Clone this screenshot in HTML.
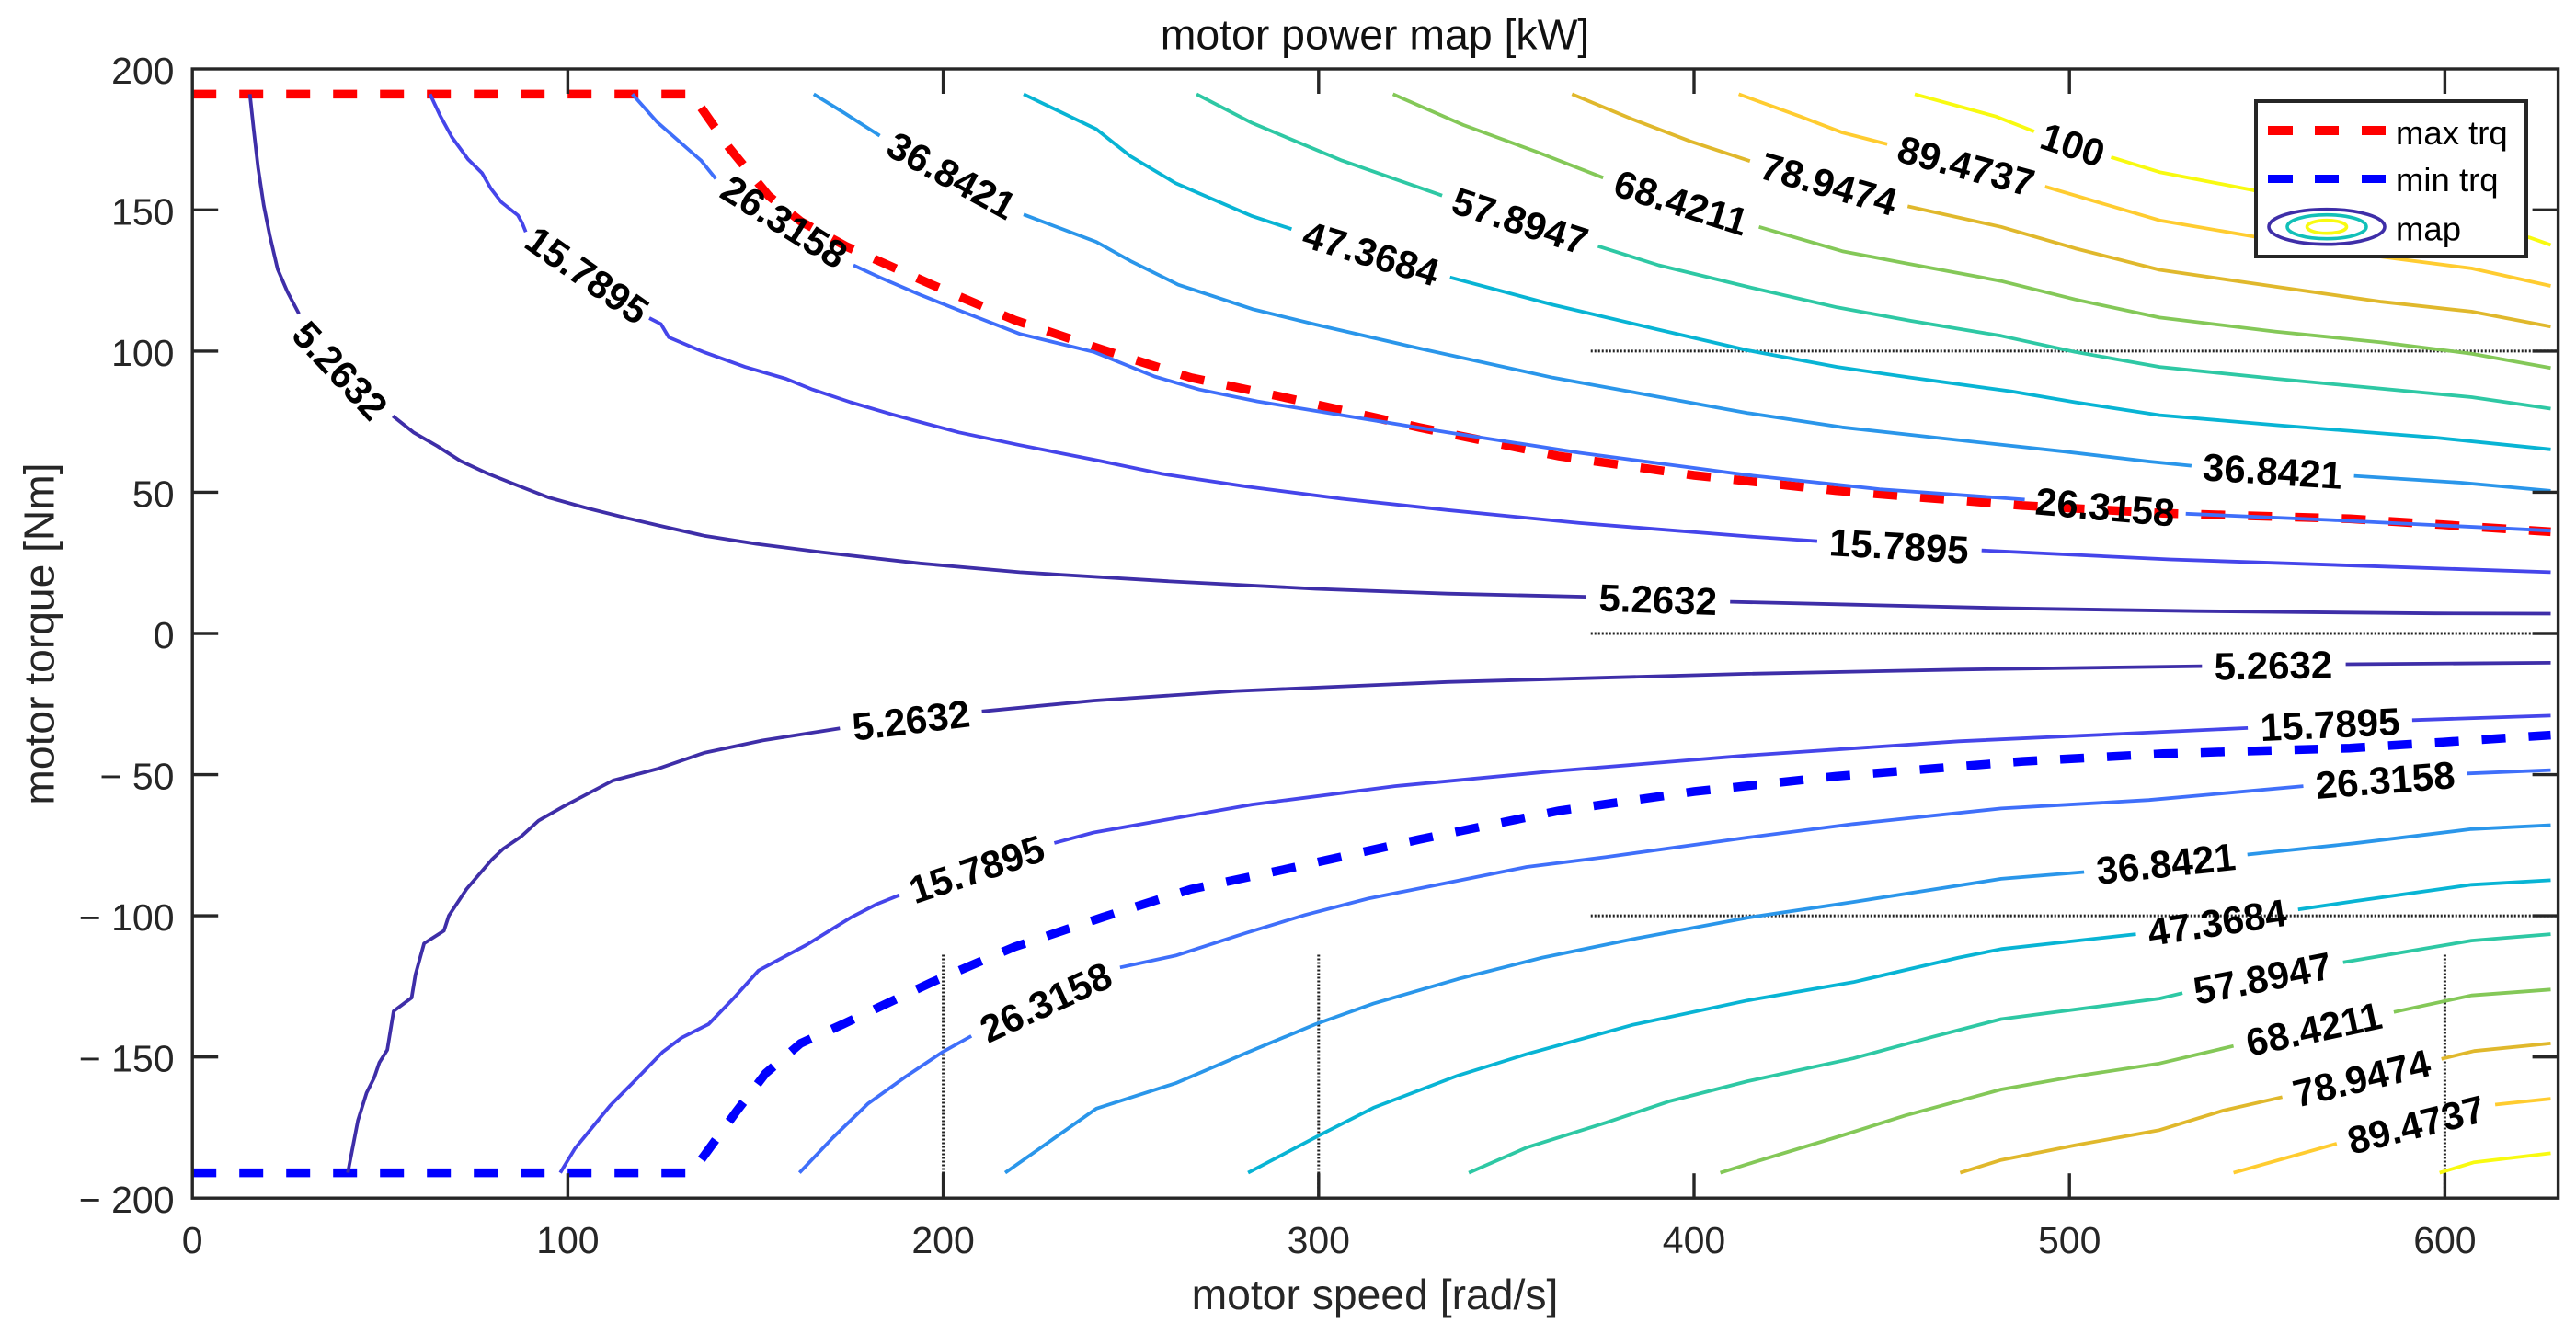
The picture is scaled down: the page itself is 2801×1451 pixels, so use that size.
<!DOCTYPE html>
<html lang="en">
<head>
<meta charset="utf-8">
<title>motor power map [kW]</title>
<style>
html,body{margin:0;padding:0;background:#fff;}
svg{display:block;font-family:"Liberation Sans",Arial,sans-serif;}
</style>
</head>
<body>
<svg id="chart" xmlns="http://www.w3.org/2000/svg" width="2801" height="1451" viewBox="0 0 2801 1451">
  <rect x="0" y="0" width="2801" height="1451" fill="#fff"/>
  <g id="guides"></g>
  <g id="limits"></g>
  <g id="contours"></g>
  <g id="contourLabels"></g>
  <g id="axes"></g>
  <text x="1495" y="53.5" text-anchor="middle" font-size="46.4" fill="#111">motor power map [kW]</text>
  <text x="1495" y="1424" text-anchor="middle" font-size="46.3" fill="#262626">motor speed [rad/s]</text>
  <text transform="translate(58.5 689.5) rotate(-90)" text-anchor="middle" font-size="46.2" fill="#262626">motor torque [Nm]</text>
  <g>
    <rect x="2453" y="110" width="294" height="169" fill="#fff" stroke="#262626" stroke-width="4"/>
    <g>
      <rect x="2466" y="137" width="27" height="10" fill="#ff0000"/>
      <rect x="2517" y="137" width="26" height="10" fill="#ff0000"/>
      <rect x="2568" y="137" width="26" height="10" fill="#ff0000"/>
      <text x="2605" y="157" font-size="36.5" fill="#000">max trq</text>
    </g>
    <g>
      <rect x="2466" y="190" width="27" height="9" fill="#0000ff"/>
      <rect x="2517" y="190" width="26" height="9" fill="#0000ff"/>
      <rect x="2568" y="190" width="26" height="9" fill="#0000ff"/>
      <text x="2605" y="208" font-size="36.5" fill="#000">min trq</text>
    </g>
    <g>
      <ellipse cx="2530" cy="246.7" rx="63" ry="19" fill="none" stroke="#3e2ea8" stroke-width="3.6"/>
      <ellipse cx="2530" cy="246.7" rx="43" ry="13" fill="none" stroke="#12c0b8" stroke-width="3.6"/>
      <ellipse cx="2530" cy="246.7" rx="21.5" ry="7" fill="none" stroke="#f8fa10" stroke-width="3.6"/>
      <text x="2605" y="261.5" font-size="36.5" fill="#000">map</text>
    </g>
  </g>
</svg>
<script>
// ---- axis ticks ----
const speedTicks = [0, 100, 200, 300, 400, 500, 600];
const torqueTicks = [200, 150, 100, 50, 0, -50, -100, -150, -200];
const speedTickLabels = ["0", "100", "200", "300", "400", "500", "600"];
const torqueTickLabels = ["200", "150", "100", "50", "0", "\u2212 50", "\u2212 100", "\u2212 150", "\u2212 200"];

// ---- guide lines ----
const guideTorques = [100, 0, -100];
const guideSpeeds = [200, 300, 600];
const guideSpeedStart = 372.5;
const guideTorqueTop = -113.8;

// ---- contour levels ----
const levelLabels = ["5.2632", "15.7895", "26.3158", "36.8421", "47.3684", "57.8947", "68.4211", "78.9474", "89.4737", "100"];

// ---- torque limits [speed, torque] ----
const maxTorqueCurve = [[0,191],[133,191],[143,172],[153.5,155],[162,146],[174,137.2],[197,123.5],[219,111],[242.5,100.5],[266,90.6],[290.6,83.7],[327,72.9],[364,62.8],[400,56],[437.8,50.6],[487.5,45.3],[524.9,42.6],[574.7,40.6],[599.5,38.5],[628.2,36]];
const minTorqueCurve = [[0,-191],[133,-191],[144.8,-169.5],[152.7,-155.8],[162,-145.2],[173.3,-138.4],[197,-123.5],[219,-111],[242.5,-100.5],[266,-90.6],[290.6,-83.7],[327,-72.9],[364,-62.8],[400,-56],[437.8,-50.6],[487.5,-45.3],[524.9,-42.6],[574.7,-40.6],[599.5,-38.5],[628.2,-36]];

// ---- contour branches [speed, torque] ----
const p5UpperA = [[15.3,191],[16.3,178.9],[17.5,165],[19,151.6],[20.6,141],[22.7,129],[25.3,121],[28.4,113.2]];
const p5UpperB = [[53.4,77],[58.9,71.2],[65.2,66.4],[71.4,61.1],[78.4,56.8],[86.3,52.6],[94.8,48.2],[105,44.4],[115.9,40.8],[125.3,37.9],[136.3,34.6],[150.3,31.7],[167.5,28.8],[193.8,24.8],[220.4,21.7],[259.8,18.5],[299.2,15.8],[334.3,14.1],[371.2,13]];
const p5UpperC = [[409.6,11.2],[442.4,10.2],[484.6,8.9],[533.9,7.9],[597.2,7.1],[628.2,7]];
const p16UpperA = [[63.3,191],[66,183.4],[69.1,175.8],[73.4,168],[77.2,163],[79.5,157.6],[82.3,152.8],[86.7,148.1],[87.8,145.5],[88.8,142.2]];
const p16UpperB = [[121.7,111.7],[124.8,109.6],[126.9,104.9],[136.3,99.6],[147.2,94.4],[158.1,90.2],[165.2,86.4],[175.3,81.9],[186.3,77.6],[193.8,74.9],[204.2,71.2],[220.4,66.7],[241.5,61.2],[258.4,56.5],[280.9,52],[306.2,47.7],[334.3,43.7],[369.5,39.1],[414.2,34.4],[432.8,32.7]];
const p16UpperC = [[476.6,29.4],[526.8,26.2],[583.1,23.7],[628.2,21.7]];
const p26UpperA = [[117.2,191],[123.8,181.1],[130,173.9],[135.5,167.5],[139.4,161.1]];
const p26UpperB = [[176.1,130.4],[183.1,126.1],[193.8,120],[204.9,114.1],[220.4,106.1],[240.1,99.7],[256.3,91],[268.2,86.4],[283.7,82.2],[306.2,77.3],[334.3,71.2],[369.5,64],[414.2,56.1],[449.4,51.1],[488.1,47.4]];
const p26UpperC = [[531,42.4],[569.1,40.2],[597.2,38.4],[628.2,36.4]];
const p37UpperA = [[165.5,191],[173.8,184.2],[183.1,176.3]];
const p37UpperB = [[221.4,148.4],[240.8,138.7],[249.9,131.9],[262.6,123.5],[282.3,114.9],[299.2,109.4],[327.3,100.8],[362.4,90.6],[414.2,78.1],[439.5,73],[463.5,69.5],[498.7,64.4],[521.2,60.9],[532.5,59.4]];
const p37UpperC = [[575.8,55.8],[604.3,53.4],[628.2,50.5]];
const p47UpperA = [[221.4,191],[240.8,178.6],[249.9,169],[261.9,159.5],[282.3,147.8],[292.8,143.2]];
const p47UpperB = [[335,126.1],[362.4,116.4],[390.6,107.6],[414.2,100.3],[438.1,94.4],[457.8,90.6],[484.6,85.7],[501.5,81.9],[524,77.3],[555,73.8],[597.2,69.4],[628.2,65.2]];
const p58UpperA = [[267.5,191],[282.3,180.8],[306.2,167.5],[332.9,155.1]];
const p58UpperB = [[374.4,137.2],[390.6,130.4],[414.2,122.8],[438.1,115.5],[457.8,110.7],[481.8,105.4],[501.5,99.7],[524,94.4],[555,90.2],[607.1,83.7],[628.2,79.6]];
const p68UpperA = [[319.8,191],[338.5,180.1],[358.2,170.5],[375.8,161.4]];
const p68UpperB = [[417.3,144],[439.5,135.4],[456.4,131.1],[481.8,124.8],[501.5,118.3],[524,111.9],[555,106.9],[583.1,103.1],[607.1,99.1],[628.2,94]];
const p79UpperA = [[367.5,191],[383.5,182.2],[399,174.3],[414.9,167.3]];
const p79UpperB = [[456.9,151.3],[481.8,144],[501.5,136.4],[524,128.8],[555,122.8],[583.1,117.5],[607.1,114],[628.2,108.7]];
const p89UpperA = [[411.9,191],[428.3,183.1],[439.5,177.4],[451.5,173.3]];
const p89UpperB = [[493.5,158.3],[524,146.3],[549.4,140.5],[583.1,133.4],[607.1,129.3],[628.2,123.1]];
const p100UpperA = [[458.8,191],[480.4,183.1],[490.6,177.8]];
const p100UpperB = [[511.1,168.7],[524,163.4],[549.4,156.9],[590,149],[622.6,140.2],[628.2,137.6]];

const p5LowerA = [[41.4,-191],[44.1,-172.5],[46.4,-162.7],[48.4,-157.4],[49.8,-152],[51.9,-147.5],[53.6,-133.8],[58.4,-129],[59.4,-120.9],[61.7,-109.8],[67,-105.3],[68.3,-100],[73,-90.6],[79.7,-80.2],[82.7,-76.4],[87.5,-72],[92.2,-66.3],[98.8,-61.3],[112,-52.1],[123.8,-48],[136.3,-42.3],[151.9,-37.9],[172.5,-33.6]];
const p5LowerB = [[210.3,-27.6],[240.1,-23.8],[278.1,-20.4],[334.3,-17.2],[414.2,-14.3],[470.5,-12.8],[535.3,-11.6]];
const p5LowerC = [[573.6,-10.9],[628.2,-10.4]];
const p16LowerA = [[98,-191],[101.9,-182.4],[111.3,-167.2],[117.5,-158.9],[125.3,-148.2],[130.3,-143.2],[137.5,-138.4],[144.1,-129.3],[150.8,-119.4],[163.6,-110.3],[175.3,-100.7],[182.3,-95.9],[188.3,-92.7]];
const p16LowerB = [[229.6,-74.2],[240.1,-70.5],[282.3,-60.6],[320.3,-54.1],[362.4,-48.8],[414.2,-43.2],[470.5,-38.2],[547.5,-33.5]];
const p16LowerC = [[591.3,-30.7],[628.2,-29.1]];
const p26LowerA = [[161.7,-191],[170.6,-178.6],[180,-166.5],[190,-157],[199.9,-148.2],[207.5,-142.6]];
const p26LowerB = [[247.1,-118.3],[261.9,-114.1],[280.9,-106],[296.4,-99.7],[313.2,-93.9],[334.3,-88.3],[355.4,-82.7],[376.5,-79.2],[414.2,-72.3],[442.4,-67.5],[481.8,-62],[521.2,-59],[562.3,-54.1]];
const p26LowerC = [[606,-49.6],[628.2,-48.4]];
const p37LowerA = [[216.5,-191],[240.8,-168.3],[261.9,-159.3],[280.9,-148.5],[299.2,-138.4],[314.6,-131.1],[337.1,-122.4],[359.6,-114.8],[383.5,-108.3],[414.2,-100.7],[442.4,-95.1],[481.8,-86.9],[503.9,-84.5]];
const p37LowerB = [[547.4,-78.3],[576.1,-74.3],[607.1,-69.3],[628.2,-67.9]];
const p47LowerA = [[281.2,-191],[300.6,-177.5],[314.6,-168],[337.1,-156.6],[355.4,-149],[383.5,-138.7],[414.2,-130],[442.4,-123.5],[470.5,-114.8],[481.8,-111.8],[517.7,-106.5]];
const p47LowerB = [[560.9,-97.8],[576.1,-94.8],[607.1,-89],[628.2,-87.4]];
const p58LowerA = [[340,-191],[355.4,-182.1],[376.5,-173.3],[393.4,-165.7],[414.2,-158.6],[442.4,-150.5],[463.5,-142.9],[481.8,-136.6],[524,-129.3],[530.1,-127.4]];
const p58LowerB = [[572.9,-116.5],[607.1,-108.8],[628.2,-106.5]];
const p68LowerA = [[407,-191],[414.2,-188],[439.5,-177.8],[456.4,-170.7],[481.8,-161.5],[501.5,-156.9],[524,-152.3],[543.7,-146.1]];
const p68LowerB = [[586.4,-134.1],[607.1,-128.2],[628.2,-126.1]];
const p79LowerA = [[470.9,-191],[481.8,-186.5],[501.5,-181.3],[524,-175.9],[540.9,-169],[556.7,-164.2]];
const p79LowerB = [[599.1,-150.7],[607.8,-147.9],[628.2,-145.2]];
const p89LowerA = [[543.7,-191],[571.2,-180.7]];
const p89LowerB = [[613.4,-166.9],[628.2,-164.8]];
const p100LowerA = [[598.6,-191],[607.8,-187.3],[628.2,-184.1]];

// level index of each branch, paired with the branch arrays below
const branchLevels = [0,0,0,1,1,1,2,2,2,3,3,3,4,4,5,5,6,6,7,7,8,8,9,9,0,0,0,1,1,1,2,2,2,3,3,4,4,5,5,6,6,7,7,8,8,9];
const branches = [p5UpperA,p5UpperB,p5UpperC,p16UpperA,p16UpperB,p16UpperC,p26UpperA,p26UpperB,p26UpperC,p37UpperA,p37UpperB,p37UpperC,p47UpperA,p47UpperB,p58UpperA,p58UpperB,p68UpperA,p68UpperB,p79UpperA,p79UpperB,p89UpperA,p89UpperB,p100UpperA,p100UpperB,p5LowerA,p5LowerB,p5LowerC,p16LowerA,p16LowerB,p16LowerC,p26LowerA,p26LowerB,p26LowerC,p37LowerA,p37LowerB,p47LowerA,p47LowerB,p58LowerA,p58LowerB,p68LowerA,p68LowerB,p79LowerA,p79LowerB,p89LowerA,p89LowerB,p100LowerA];

// ---- contour label anchors ----
const labelLevels = [0,1,2,3,4,5,6,7,8,9,0,1,2,3,0,1,2,3,4,5,6,7,8,0,1,2];
const labelSpeeds = [39.4,105.2,157.7,202.3,314,353.7,396.6,435.9,472.5,500.9,390.4,454.6,509.5,554.1,554.3,569.4,584.1,525.7,539.3,551.4,565.1,577.8,592.3,191.4,208.9,227.3];
const labelTorques = [93.2,127,145.9,162.3,134.7,146.2,152.7,159.3,165.7,173.2,12.1,31.1,44.9,57.6,-11.2,-32.1,-51.8,-81.4,-102.2,-122,-140,-157.4,-173.9,-30.6,-83.4,-130.5];
const labelAngles = [47,35,32,28.7,17,18,17.5,16,15,18.5,2,3.3,5,3.6,-1,-2.7,-4.5,-6,-8.5,-11,-12,-13.5,-14,-7,-18.6,-24.8];

// ---- rendering ----
const levelColors = ["#3e2ea8","#4545ea","#3f6ffa","#2a96ea","#08b4d4","#2ec8a4","#84c858","#e0b82c","#ffcc30","#f8fa10"];
const SVGNS = "http://www.w3.org/2000/svg";
const PLOT_LEFT = 209.2, PLOT_RIGHT = 2781.6, PLOT_TOP = 75, PLOT_BOTTOM = 1303.2;
function xScale(v){ return 209.2 + v * 4.082; }
function yScale(v){ return 689 - v * 3.071; }
function makeEl(tag, parent, attrs){
  const el = document.createElementNS(SVGNS, tag);
  for (const k in attrs) el.setAttribute(k, attrs[k]);
  parent.appendChild(el);
  return el;
}
function pathOf(pts){
  return pts.map((p, i) => (i ? "L" : "M") + xScale(p[0]).toFixed(1) + " " + yScale(p[1]).toFixed(1)).join(" ");
}

const guides = document.getElementById("guides");
guideTorques.forEach(function(t){
  const el = makeEl("line", guides, {x1:xScale(guideSpeedStart), x2:PLOT_RIGHT, y1:yScale(t), y2:yScale(t), stroke:"#222", "stroke-width":3, "stroke-dasharray":"2 2"});
  
  
});
guideSpeeds.forEach(function(s){
  const el = makeEl("line", guides, {x1:xScale(s), x2:xScale(s), y1:yScale(guideTorqueTop), y2:PLOT_BOTTOM, stroke:"#222", "stroke-width":3, "stroke-dasharray":"2 2"});
  
  
});

const limits = document.getElementById("limits");
const maxLine = makeEl("path", limits, {d:pathOf(maxTorqueCurve), fill:"none", stroke:"#ff0000", "stroke-width":9.5, "stroke-dasharray":"26 25"});


const minLine = makeEl("path", limits, {d:pathOf(minTorqueCurve), fill:"none", stroke:"#0000ff", "stroke-width":9.5, "stroke-dasharray":"26 25"});



const contours = document.getElementById("contours");
branches.forEach(function(pts, i){
  const el = makeEl("path", contours, {d:pathOf(pts), fill:"none", stroke:levelColors[branchLevels[i]], "stroke-width":3.8, "stroke-linejoin":"round"});
  
  
});

const contourLabels = document.getElementById("contourLabels");
labelLevels.forEach(function(lv, i){
  const x = xScale(labelSpeeds[i]), y = yScale(labelTorques[i]);
  const el = makeEl("text", contourLabels, {transform:"translate(" + x.toFixed(1) + " " + y.toFixed(1) + ") rotate(" + labelAngles[i] + ")", "text-anchor":"middle", y:15, "font-size":42, "font-weight":"bold", fill:"#000"});
  el.textContent = levelLabels[lv];
  
  
});

const axes = document.getElementById("axes");
const frame = makeEl("rect", axes, {x:PLOT_LEFT, y:PLOT_TOP, width:PLOT_RIGHT-PLOT_LEFT, height:PLOT_BOTTOM-PLOT_TOP, fill:"none", stroke:"#262626", "stroke-width":3.4});


const TICK = { stroke:"#262626", "stroke-width":3.4 };
speedTicks.forEach(function(s, i){
  const x = xScale(s);
  if (s !== 0) {
    const b = makeEl("line", axes, Object.assign({x1:x, x2:x, y1:PLOT_BOTTOM, y2:PLOT_BOTTOM-27}, TICK));
    
    
    const t = makeEl("line", axes, Object.assign({x1:x, x2:x, y1:PLOT_TOP, y2:PLOT_TOP+27}, TICK));
    
    
  }
  const lab = makeEl("text", axes, {x:x, y:1363, "text-anchor":"middle", "font-size":41, fill:"#262626"});
  lab.textContent = speedTickLabels[i];
  
  
});
torqueTicks.forEach(function(t, i){
  const y = yScale(t);
  if (t !== 200 && t !== -200) {
    const l = makeEl("line", axes, Object.assign({x1:PLOT_LEFT, x2:PLOT_LEFT+28, y1:y, y2:y}, TICK));
    
    
    const r = makeEl("line", axes, Object.assign({x1:PLOT_RIGHT, x2:PLOT_RIGHT-28, y1:y, y2:y}, TICK));
    
    
  }
  const lab = makeEl("text", axes, {x:189.5, y:y+16, "text-anchor":"end", "font-size":41, fill:"#262626"});
  lab.textContent = torqueTickLabels[i];
  
  
});
</script>
</body>
</html>
